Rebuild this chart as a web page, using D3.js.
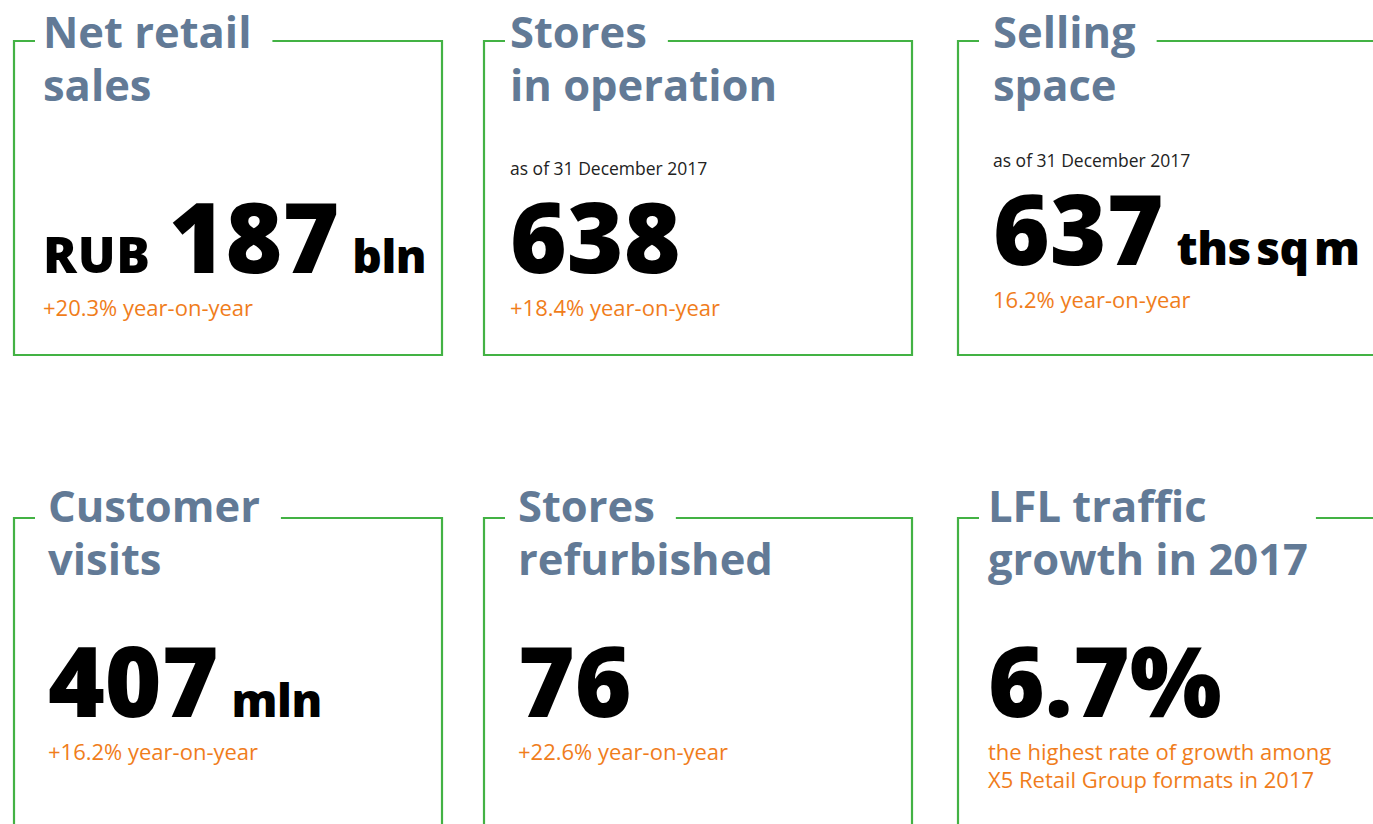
<!DOCTYPE html>
<html lang="en">
<head>
    <meta charset="UTF-8">
    <title>Key figures 2017</title>
    <script src="https://d3js.org/d3.v7.min.js"></script>
    <style>
        body { margin: 0; background: #fff; overflow: hidden; }
        text { font-family: "Open Sans", "Noto Sans", sans-serif; }
    </style>
</head>
<body>
<svg width="1373" height="824"></svg>

<script>
    // card data
    var titles = [
        ["Net retail", "sales"],
        ["Stores", "in operation"],
        ["Selling", "space"],
        ["Customer", "visits"],
        ["Stores", "refurbished"],
        ["LFL traffic", "growth in 2017"]
    ];
    var dates = ["", "as of 31 December 2017", "as of 31 December 2017", "", "", ""];
    var prefixes = ["RUB", "", "", "", "", ""];
    var values = ["187", "638", "637", "407", "76", "6.7%"];
    var units = ["bln", "", "ths sq m", "mln", "", ""];
    var notes = [
        ["+20.3% year-on-year"],
        ["+18.4% year-on-year"],
        ["16.2% year-on-year"],
        ["+16.2% year-on-year"],
        ["+22.6% year-on-year"],
        ["the highest rate of growth among", "X5 Retail Group formats in 2017"]
    ];

    // layout tweaks per card (content inset, vertical shift, which title line sets the border gap)
    var insetX = [29, 26, 35, 34, 34, 30];
    var shiftY = [0, 0, -8, -33, -33, -33];
    var titleY = [7, 7, 7, 4, 4, 4];
    var gapLine = [0, 0, 0, 0, 0, 1];

    var green = "#43b244",
        slate = "#627a96",
        orange = "#f07d1b";

    var svg = d3.select("svg");

    var colX = d3.scaleOrdinal().domain([0, 1, 2]).range([14, 484, 958]);
    var rowY = d3.scaleOrdinal().domain([0, 1]).range([41, 518]);
    var boxW = 428, boxH = 314;

    var cards = svg.selectAll("g.card")
        .data(values.map(function (v, i) { return i; }))
        .enter().append("g")
        .attr("class", "card")
        .attr("transform", function (i) {
            return "translate(" + colX(i % 3) + "," + rowY(Math.floor(i / 3)) + ")";
        });

    cards.each(function (i) {
        var g = d3.select(this);
        var x0 = insetX[i];
        var dy = shiftY[i];

        // title, two lines
        var title = g.append("text")
            .attr("fill", slate)
            .attr("font-size", 43.5)
            .attr("font-weight", 700);
        titles[i].forEach(function (t, k) {
            title.append("tspan")
                .attr("x", x0)
                .attr("y", titleY[i] + k * 53)
                .text(t);
        });
        var lineW = title.selectAll("tspan").nodes()[gapLine[i]].getComputedTextLength();
        var gapEnd = x0 + lineW + (gapLine[i] ? 8 : 21);

        // frame with a gap for the title
        var frame = d3.path();
        frame.moveTo(21, 0);
        frame.lineTo(0, 0);
        frame.lineTo(0, boxH);
        frame.lineTo(boxW, boxH);
        frame.lineTo(boxW, 0);
        frame.lineTo(gapEnd, 0);
        g.insert("path", "text")
            .attr("d", frame.toString())
            .attr("fill", "none")
            .attr("stroke", green)
            .attr("stroke-width", 2.2);

        if (dates[i]) {
            g.append("text")
                .attr("x", x0)
                .attr("y", 134 + dy)
                .attr("font-size", 17.5)
                .attr("fill", "#222")
                .text(dates[i]);
        }

        // main figure
        var fig = g.append("text")
            .attr("x", x0)
            .attr("y", 232 + dy)
            .attr("fill", "#000");
        if (prefixes[i]) {
            fig.append("tspan")
                .attr("font-size", 50)
                .attr("font-weight", 800)
                .attr("letter-spacing", 0.8)
                .text(prefixes[i]);
        }
        fig.append("tspan")
            .attr("font-size", 97)
            .attr("font-weight", 800)
            .attr("dx", prefixes[i] ? 18 : 0)
            .text(values[i]);
        if (units[i]) {
            fig.append("tspan")
                .attr("font-size", 46)
                .attr("font-weight", 800)
                .attr("letter-spacing", -0.5)
                .attr("dx", 13)
                .attr("word-spacing", -6)
                .text(units[i]);
        }

        notes[i].forEach(function (t, k) {
            g.append("text")
                .attr("x", x0)
                .attr("y", 275 + dy + k * 28)
                .attr("font-size", 22)
                .attr("fill", orange)
                .text(t);
        });
    });
</script>

</body>
</html>
